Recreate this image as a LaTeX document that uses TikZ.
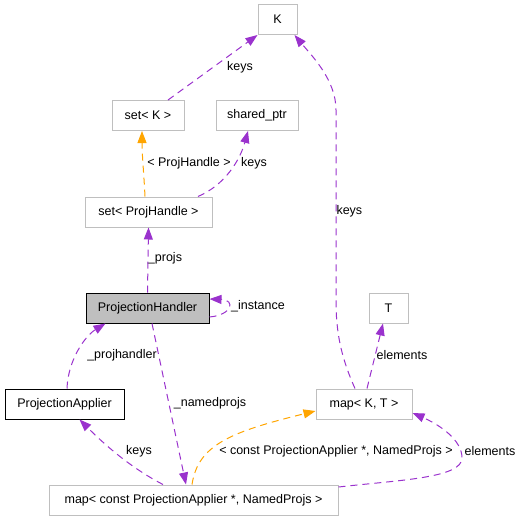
\documentclass[tikz,border=0pt]{standalone}
\usepackage{fontspec}
\setmainfont{Liberation Sans}
\usetikzlibrary{arrows.meta}
\definecolor{boxline}{HTML}{BFBFBF}
\definecolor{boxfill}{HTML}{BFBFBF}
\definecolor{usecol}{HTML}{9A32CD}
\definecolor{tmplcol}{HTML}{FFA500}

\begin{document}
\begin{tikzpicture}[x=1pt,y=-1pt,line width=1pt,
  cls/.style={rectangle,draw=boxline,fill=white,minimum height=30pt,inner sep=2pt,font=\fontsize{12.5}{15}\selectfont},
  main/.style={cls,draw=black,fill=boxfill},
  ref/.style={cls,draw=black},
  lbl/.style={inner sep=0pt,font=\fontsize{12.5}{15}\selectfont},
  uses/.style={color=usecol,dash pattern=on 7pt off 5pt,-{Triangle[length=12pt,width=9pt]}},
  tmpl/.style={uses,color=tmplcol}]
\useasboundingbox (0,0) rectangle (528,520);

\node [cls,minimum width=39pt,at={(277.5,19.5)}] (K) {K};
\node [cls,minimum width=72pt,at={(148,115.5)}] (setk) {set< K >};
\node [cls,minimum width=82pt,at={(257,115.5)}] (sharedptr) {shared\_ptr};
\node [cls,minimum width=127pt,at={(148.5,212)}] (setph) {set< ProjHandle >};
\node [main,minimum width=123pt,at={(147.5,308)}] (projhandler) {ProjectionHandler};
\node [cls,minimum width=39pt,at={(388.5,308)}] (T) {T};
\node [ref,minimum width=119pt,at={(64.5,404)}] (papplier) {ProjectionApplier};
\node [cls,minimum width=96pt,at={(364,404)}] (mapkt) {map< K, T >};
\node [cls,minimum width=289pt,at={(193.5,500)}] (mapc) {map< const ProjectionApplier *, NamedProjs >};

% labels
\node [lbl,at={(240,67)}] (lkeysa) {keys};
\node [lbl,anchor=west,at={(336,211)}] (lkeysb) {keys};
\node [lbl,at={(189,163)}] (lprojhandle) {< ProjHandle >};
\node [lbl,at={(254,163)}] (lkeysc) {keys};
\node [lbl,at={(165,258)}] (lprojs) {\_projs};
\node [lbl,at={(258,306)}] (linstance) {\_instance};
\node [lbl,at={(122,355)}] (lprojhandler) {\_projhandler};
\node [lbl,at={(210,403)}] (lnamedprojs) {\_namedprojs};
\node [lbl,at={(139,451)}] (lkeysd) {keys};
\node [lbl,at={(336,451)}] (lconst) {< const ProjectionApplier *, NamedProjs >};
\node [lbl,at={(490,451)}] (lelemsa) {elements};
\node [lbl,at={(402,355)}] (lelemsb) {elements};

\draw [uses] ([xshift=20pt]setk.north) -- (K.south west);
\draw [uses] ([xshift=-9pt]mapkt.north) .. controls (340,355) and (336,330) .. (336,300) -- (336,110) .. controls (336,80) and (312,56) .. ([xshift=-3pt]K.south east);
\draw [tmpl] ([xshift=-3.5pt]setph.north) .. controls (144,175) and (142,155) .. ([xshift=-6pt]setk.south);
\draw [uses] ([xshift=49.5pt]setph.north) .. controls (225,185) and (240,160) .. ([xshift=-9pt]sharedptr.south);
\draw [uses] (projhandler.north) -- (setph.south);
\draw [uses] ([yshift=-9pt]projhandler.east) .. controls (232,315) and (236,300) .. ([yshift=9pt]projhandler.east);
\draw [uses] ([xshift=2.5pt]papplier.north) .. controls (68,360) and (85,336) .. ([xshift=-42pt]projhandler.south);
\draw [uses] ([xshift=4.5pt]projhandler.south) -- ([xshift=-7.5pt]mapc.north);
\draw [uses] ([xshift=-30.5pt]mapc.north) .. controls (135,470) and (110,450) .. ([xshift=15pt]papplier.south);
\draw [tmpl] ([xshift=-1.5pt]mapc.north) .. controls (198,445) and (230,432) .. ([yshift=-7pt]mapkt.west);
\draw [uses] ([yshift=13pt]mapc.east) .. controls (400,480) and (462,478) .. (462,458) .. controls (462,440) and (440,425) .. ([yshift=-9pt]mapkt.east);
\draw [uses] ([xshift=3pt]mapkt.north) -- ([xshift=-5.5pt]T.south);
\end{tikzpicture}
\end{document}
